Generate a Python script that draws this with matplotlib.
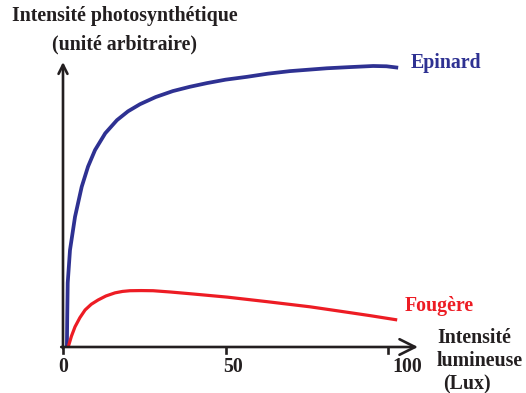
import matplotlib
matplotlib.use("Agg")
from matplotlib import pyplot as plt

# light intensity (Lux) vs photosynthetic intensity (arbitrary units)
epinard_x = [1.2, 1.3, 1.45, 2.15, 3.7, 5.75, 7.7, 9.85, 13.0, 16.6, 20.0, 23.7,
             28.5, 33.8, 39.0, 44.3, 50.0, 56.6, 63.0, 69.8, 75.5, 81.2, 88.0,
             95.4, 99.5, 103.1]
epinard_y = [0.0, 10.5, 22.5, 34.0, 45.7, 56.2, 63.3, 69.1, 75.0, 79.6, 82.7, 85.2,
             87.7, 89.8, 91.3, 92.6, 93.8, 94.8, 95.9, 96.8, 97.3, 97.8, 98.2,
             98.6, 98.5, 98.0]

fougere_x = [1.6, 2.6, 3.7, 5.2, 6.8, 8.7, 10.8, 13.2, 16.0, 18.3, 20.6, 24.0,
             27.7, 33.0, 40.0, 50.5, 62.8, 76.0, 86.2, 94.5, 102.8]
fougere_y = [0.0, 3.8, 7.1, 10.3, 13.0, 15.0, 16.5, 17.9, 19.0, 19.5, 19.75, 19.8,
             19.75, 19.3, 18.6, 17.5, 15.9, 14.1, 12.4, 11.0, 9.5]

xticks = [0, 50, 100]
xtick_labels = ["0", "50", "100"]
xtick_label_pos = [0, 52.2, 106]

blue = "#2e3192"
red = "#ed1c24"
black = "#231f20"
font = "Liberation Serif"
fs = 14.3

W, H = 526, 393
fig = plt.figure(figsize=(W / 100, H / 100), dpi=100)
ax = fig.add_axes([63 / W, 46 / H, 355 / W, 285 / H])
ax.set_xlim(0, 109.2)
ax.set_ylim(0, 100)
ax.axis("off")

ax.plot(epinard_x, epinard_y, color=blue, lw=2.7, solid_capstyle="butt", clip_on=False)
ax.plot(fougere_x, fougere_y, color=red, lw=2.3, solid_capstyle="butt", clip_on=False)

# axes drawn as arrows
ax.annotate("", xy=(1, 0), xytext=(-0.005, 0), xycoords="axes fraction",
            arrowprops=dict(arrowstyle="->", lw=1.9, color=black,
                            mutation_scale=28, shrinkA=0, shrinkB=0))
ax.annotate("", xy=(0, 1), xytext=(0, -0.005), xycoords="axes fraction",
            arrowprops=dict(arrowstyle="->", lw=1.9, color=black,
                            mutation_scale=16, shrinkA=0, shrinkB=0))

for xt, lab, xl in zip(xticks, xtick_labels, xtick_label_pos):
    ax.plot([xt, xt], [-2.2, 0], color=black, lw=1.9, clip_on=False)
    ax.text(xl, -7, lab, ha="center", va="center", fontsize=fs,
            fontweight="bold", family=font, color=black, clip_on=False)

def ftext(x, y, s, **kw):
    fig.text(x / W, 1 - y / H, s, fontsize=fs, fontweight="bold",
             family=font, va="center", **kw)

ftext(125, 16, "Intensité photosynthétique", ha="center", color=black)
ftext(125, 44, "(unité arbitraire)", ha="center", color=black)
ftext(411, 63, "Epinard", ha="left", color=blue)
ftext(405, 306, "Fougère", ha="left", color=red)
ftext(437, 338, "Intensité", ha="left", color=black)
ftext(437, 361, "lumineuse", ha="left", color=black)
ftext(443, 384, "(Lux)", ha="left", color=black)

fig.savefig("out.png", dpi=100)
